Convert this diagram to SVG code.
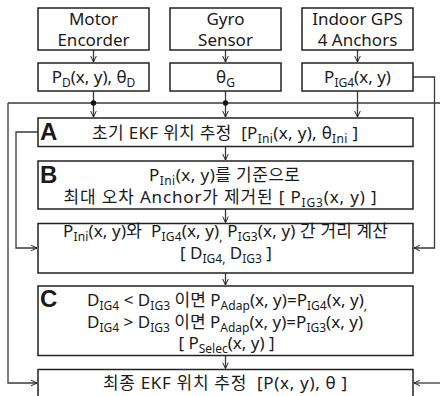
<svg xmlns="http://www.w3.org/2000/svg" width="440" height="396" viewBox="0 0 440 396">
<defs>
<style>
.box{fill:#fff;stroke:#222;stroke-width:1.5}
.ln{fill:none;stroke:#3a3a3a;stroke-width:1.3}
text{font-family:"Noto Sans","Noto Sans CJK KR",sans-serif;font-size:17px;fill:#1a1a1a;white-space:pre}
.c{text-anchor:middle}
.s{font-size:12px}
.big{font-family:"Liberation Sans","Noto Sans",sans-serif;font-weight:bold;font-size:24px}
</style>
<marker id="ar" viewBox="0 0 10 10" refX="9.5" refY="5" markerWidth="7" markerHeight="7" orient="auto" markerUnits="userSpaceOnUse">
<path d="M1,1 L9.5,5 L1,9" fill="none" stroke="#222" stroke-width="1.4"/>
</marker>
</defs>
<rect width="440" height="396" fill="#fff"/>
<g id="connectors">
<path class="ln" d="M93.5,50 V62" marker-end="url(#ar)"/>
<path class="ln" d="M225.5,50 V62" marker-end="url(#ar)"/>
<path class="ln" d="M357.5,50 V62" marker-end="url(#ar)"/>
<path class="ln" d="M93.5,91 V117" marker-end="url(#ar)"/>
<path class="ln" d="M225.5,91 V117" marker-end="url(#ar)"/>
<path class="ln" d="M357.5,91 V117" marker-end="url(#ar)"/>
<path class="ln" d="M8,103 H440"/>
<circle cx="93.5" cy="103" r="2.7" fill="#111"/>
<circle cx="225.5" cy="103" r="2.7" fill="#111"/>
<path class="ln" d="M8,103 V383 H37" marker-end="url(#ar)"/>
<path class="ln" d="M413,77 H434.5 V248 H414" marker-end="url(#ar)"/>
<path class="ln" d="M38,132 H16 V248 H37" marker-end="url(#ar)"/>
<path class="ln" d="M440,383 H414" marker-end="url(#ar)"/>
<path class="ln" d="M225.5,146.5 V160" marker-end="url(#ar)"/>
<path class="ln" d="M225.5,209 V222.5" marker-end="url(#ar)"/>
<path class="ln" d="M225.5,273 V285" marker-end="url(#ar)"/>
<path class="ln" d="M225.5,355.5 V368.5" marker-end="url(#ar)"/>
</g>
<g id="motor">
<rect class="box" x="38" y="8" width="111" height="42"/>
<text class="c" x="93.5" y="25">Motor</text>
<text class="c" x="93.5" y="45.5">Encorder</text>
</g>
<g id="gyro">
<rect class="box" x="170" y="8" width="111" height="42"/>
<text class="c" x="225.5" y="25">Gyro</text>
<text class="c" x="225.5" y="45.5">Sensor</text>
</g>
<g id="gps">
<rect class="box" x="302" y="8" width="111" height="42"/>
<text class="c" x="357.5" y="25">Indoor GPS</text>
<text class="c" x="357.5" y="45.5">4 Anchors</text>
</g>
<g id="pd">
<rect class="box" x="38" y="63" width="111" height="28"/>
<text class="c" x="93.5" y="83">P<tspan class="s" dy="4">D</tspan><tspan dy="-4">(x, y), θ</tspan><tspan class="s" dy="4">D</tspan></text>
</g>
<g id="thetag">
<rect class="box" x="170" y="63" width="111" height="28"/>
<text class="c" x="225.5" y="83">θ<tspan class="s" dy="4">G</tspan></text>
</g>
<g id="pig4">
<rect class="box" x="302" y="63" width="111" height="28"/>
<text class="c" x="357.5" y="83">P<tspan class="s" dy="4">IG4</tspan><tspan dy="-4">(x, y)</tspan></text>
</g>
<g id="stepA">
<rect class="box" x="38" y="118" width="375" height="28.5"/>
<text class="big" x="40" y="140">A</text>
<text x="92" y="139" textLength="266" lengthAdjust="spacing">초기 EKF 위치 추정  [P<tspan class="s" dy="4">Ini</tspan><tspan dy="-4">(x, y), θ</tspan><tspan class="s" dy="4">Ini</tspan><tspan dy="-4"> ]</tspan></text>
</g>
<g id="stepB">
<rect class="box" x="38" y="161" width="375" height="48"/>
<text class="big" x="40" y="183">B</text>
<text x="149" y="181" textLength="151" lengthAdjust="spacing">P<tspan class="s" dy="4">Ini</tspan><tspan dy="-4">(x, y)를 기준으로</tspan></text>
<text x="63.5" y="203" textLength="313" lengthAdjust="spacing">최대 오차 Anchor가 제거된 [ P<tspan class="s" dy="4">IG3</tspan><tspan dy="-4">(x, y) ]</tspan></text>
</g>
<g id="distance">
<rect class="box" x="38" y="223.5" width="375" height="49.5"/>
<text x="63" y="237" textLength="325" lengthAdjust="spacing">P<tspan class="s" dy="4">Ini</tspan><tspan dy="-4">(x, y)와  P</tspan><tspan class="s" dy="4">IG4</tspan><tspan dy="-4">(x, y)</tspan><tspan class="s" dy="4">,</tspan><tspan dy="-4"> P</tspan><tspan class="s" dy="4">IG3</tspan><tspan dy="-4">(x, y) 간 거리 계산</tspan></text>
<text class="c" x="226" y="259">[ D<tspan class="s" dy="4">IG4,</tspan><tspan dy="-4"> D</tspan><tspan class="s" dy="4">IG3</tspan><tspan dy="-4"> ]</tspan></text>
</g>
<g id="stepC">
<rect class="box" x="38" y="286" width="375" height="69.5"/>
<text class="big" x="40" y="307">C</text>
<text x="87" y="306" textLength="280" lengthAdjust="spacing">D<tspan class="s" dy="4">IG4</tspan><tspan dy="-4"> &lt; D</tspan><tspan class="s" dy="4">IG3</tspan><tspan dy="-4"> 이면 P</tspan><tspan class="s" dy="4">Adap</tspan><tspan dy="-4">(x, y)=P</tspan><tspan class="s" dy="4">IG4</tspan><tspan dy="-4">(x, y)</tspan><tspan class="s" dy="4">,</tspan></text>
<text x="87" y="328" textLength="276" lengthAdjust="spacing">D<tspan class="s" dy="4">IG4</tspan><tspan dy="-4"> &gt; D</tspan><tspan class="s" dy="4">IG3</tspan><tspan dy="-4"> 이면 P</tspan><tspan class="s" dy="4">Adap</tspan><tspan dy="-4">(x, y)=P</tspan><tspan class="s" dy="4">IG3</tspan><tspan dy="-4">(x, y)</tspan></text>
<text class="c" x="226.5" y="349">[ P<tspan class="s" dy="4">Selec</tspan><tspan dy="-4">(x, y) ]</tspan></text>
</g>
<g id="final">
<rect class="box" x="38" y="369.5" width="375" height="40"/>
<text x="103" y="389" textLength="244" lengthAdjust="spacing">최종 EKF 위치 추정  [P(x, y), θ ]</text>
</g>
</svg>
